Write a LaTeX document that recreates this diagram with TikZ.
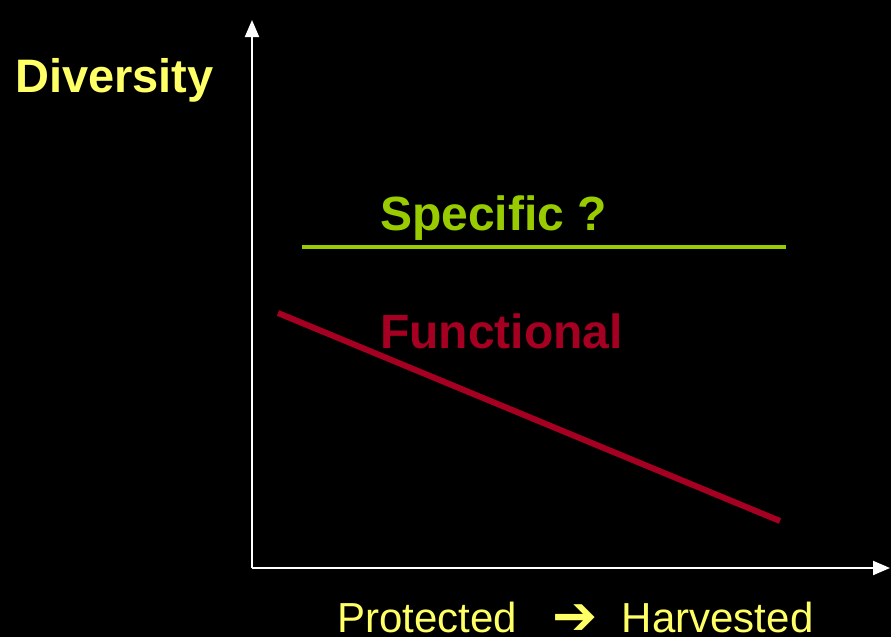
\documentclass[tikz,border=0pt]{standalone}
\usepackage{fontspec}
\setmainfont{Liberation Sans}
\newfontfamily\symfont{DejaVu Sans}
\usetikzlibrary{arrows.meta}
\definecolor{labelyellow}{HTML}{FFFF66}
\definecolor{specgreen}{HTML}{99CC00}
\definecolor{funcred}{HTML}{A50021}
\tikzset{
  axis/.style={draw=white,line width=2pt,-{Triangle[length=17pt,width=14pt]}},
  lbl/.style={inner sep=0pt,anchor=base west,font=\fontsize{48}{50}\selectfont\bfseries}
}

\begin{document}
\begin{tikzpicture}[x=1pt,y=-1pt]
  \fill[black] (0,0) rectangle (891,637);
  \useasboundingbox (0,0) rectangle (891,637);
  \coordinate (o) at (252,568);
  \coordinate (ytop) at (252,20);
  \coordinate (xend) at (890,568);
  \coordinate (s1) at (302,247);
  \coordinate (s2) at (786,247);
  \coordinate (f1) at (278,313);
  \coordinate (f2) at (780,521);
  \path
    (o) edge [axis] (ytop)
    (o) edge [axis] (xend);
  \draw[specgreen,line width=4pt] (s1) -- (s2);
  \draw[funcred,line width=6pt] (f1) -- (f2);
  \node[lbl,text=labelyellow,font=\fontsize{47}{50}\selectfont\bfseries] (div) at (15,92) {Diversity};
  \node[lbl,text=specgreen] (spec) at (380,230) {Specific ?};
  \node[lbl,text=funcred] (func) at (380,348) {Functional};
  \node[inner sep=0pt,anchor=base west,text=labelyellow,font=\fontsize{42}{46}\selectfont] (xlab) at (337,632)
    {Protected\hspace{36pt}\makebox[44pt][c]{\symfont\bfseries\fontsize{54}{56}\selectfont\raisebox{-2pt}{➔}}\hspace{25pt}Harvested};
\end{tikzpicture}
\end{document}
